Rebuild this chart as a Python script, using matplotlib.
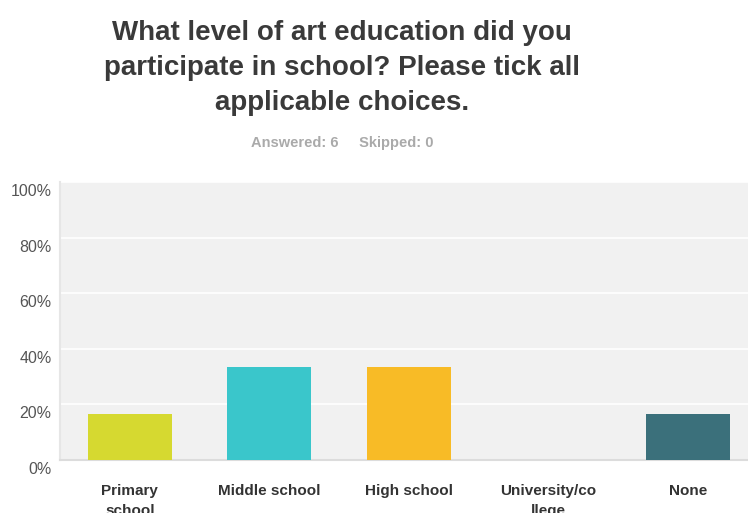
import numpy as np
import matplotlib.pyplot as plt
import matplotlib.transforms as mtransforms

plt.rcParams['font.family'] = ['Liberation Sans', 'DejaVu Sans']

# --- data ---
categories = ['Primary\nschool', 'Middle school', 'High school', 'University/co\nllege', 'None']
percent = [16.67, 33.33, 33.33, 0.0, 16.67]
bar_colors = ['#d6d930', '#3ac6cb', '#f8bb26', '#b0b0b0', '#3b707b']
yticks = [0, 20, 40, 60, 80, 100]
ytick_labels = ['0%', '20%', '40%', '60%', '80%', '100%']

title = "What level of art education did you\nparticipate in school? Please tick all\napplicable choices."
subtitle = "Answered: 6     Skipped: 0"

fig = plt.figure(figsize=(7.48, 5.13), dpi=100)
ax = fig.add_axes([60 / 748, 1 - 460 / 513, 1 - 60 / 748, (460 - 182) / 513])

x = np.arange(len(categories))
ax.bar(x, percent, width=0.6, color=bar_colors, zorder=3)

ax.set_facecolor('#f1f1f1')
ax.set_xlim(-0.5, 4.43)
ax.set_ylim(0, 100)
ax.set_yticks(yticks)
ax.set_yticklabels(ytick_labels, fontsize=11.5, color='#555555')
ax.set_xticks(x)
ax.set_xticklabels(categories, fontsize=11, fontweight='bold', color='#333333',
                   linespacing=1.6, va='top')
ax.tick_params(axis='both', length=0)
ax.tick_params(axis='x', pad=17)
ax.tick_params(axis='y', pad=6)
ax.grid(axis='y', color='white', linewidth=1.2, zorder=1)

# y labels sit a bit below their gridlines
offset = mtransforms.ScaledTranslation(0, -8 / 100, fig.dpi_scale_trans)
for lbl in ax.get_yticklabels():
    lbl.set_transform(lbl.get_transform() + offset)

for side in ['top', 'right']:
    ax.spines[side].set_visible(False)
ax.spines['left'].set_color('#e6e6e6')
ax.spines['left'].set_linewidth(1.5)
ax.spines['bottom'].set_color('#dcdcdc')
ax.spines['bottom'].set_linewidth(1.5)

fig.text(342 / 748, 1 - 68 / 513, title, ha='center', va='center', fontsize=20,
         fontweight='bold', color='#3a3a3a', linespacing=1.45)
fig.text(342 / 748, 1 - 143 / 513, subtitle, ha='center', va='center', fontsize=10.5,
         fontweight='bold', color='#aaaaaa')

plt.savefig('out.png', dpi=100)
